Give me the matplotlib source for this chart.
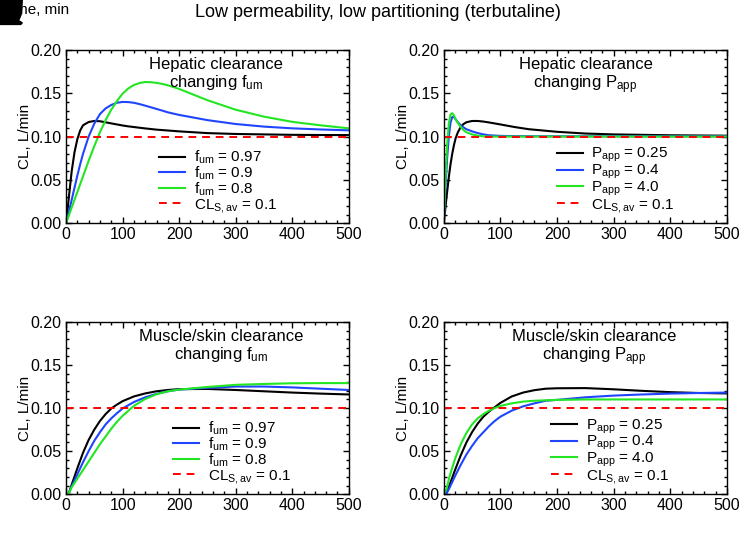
import matplotlib.pyplot as plt
from matplotlib.patches import Polygon
from matplotlib.ticker import MultipleLocator
import numpy as np

# ---- data ----
t_hep_fum = [0, 5, 10, 15, 20, 25, 30, 40, 50, 60, 70, 80, 90, 100, 110, 120,
             130, 140, 150, 160, 170, 180, 200, 250, 300, 350, 400, 450, 500]
hep_fum_097 = [0, 0.03, 0.06, 0.082, 0.097, 0.107, 0.113, 0.1168, 0.118, 0.1177,
               0.1165, 0.1152, 0.114, 0.1128, 0.1118, 0.111, 0.1102, 0.1094,
               0.1087, 0.108, 0.1075, 0.107, 0.106, 0.104, 0.103, 0.1025, 0.102,
               0.1018, 0.1017]
hep_fum_09 = [0, 0.013, 0.027, 0.041, 0.055, 0.068, 0.08, 0.1, 0.115, 0.126,
              0.1325, 0.1365, 0.139, 0.140, 0.1398, 0.139, 0.1375, 0.1357,
              0.1338, 0.1319, 0.130, 0.128, 0.125, 0.119, 0.1145, 0.1115, 0.1095,
              0.1082, 0.1072]
hep_fum_08 = [0, 0.009, 0.018, 0.027, 0.036, 0.045, 0.054, 0.072, 0.089, 0.105,
              0.119, 0.131, 0.141, 0.1495, 0.1555, 0.1595, 0.1618, 0.163, 0.1628,
              0.162, 0.1608, 0.1592, 0.155, 0.142, 0.131, 0.123, 0.117, 0.113,
              0.1095]

t_hep_papp = [0, 3, 6, 9, 12, 15, 18, 21, 25, 30, 35, 40, 50, 60, 70, 80, 100,
              125, 150, 200, 250, 300, 400, 500]
hep_papp_025 = [0, 0.018, 0.036, 0.053, 0.068, 0.08, 0.09, 0.098, 0.105, 0.111,
                0.1145, 0.1165, 0.118, 0.118, 0.1173, 0.1163, 0.114, 0.111,
                0.1085, 0.1055, 0.1035, 0.1025, 0.1015, 0.101]
hep_papp_04 = [0, 0.04, 0.075, 0.1, 0.116, 0.1225, 0.1225, 0.12, 0.1165, 0.113,
               0.1105, 0.1085, 0.106, 0.104, 0.1025, 0.1015, 0.1008, 0.1005,
               0.1004, 0.1003, 0.1003, 0.1003, 0.1003, 0.1003]
hep_papp_40 = [0, 0.05, 0.09, 0.115, 0.1255, 0.127, 0.1245, 0.12, 0.1155, 0.111,
               0.1075, 0.105, 0.1025, 0.101, 0.1003, 0.1, 0.1, 0.1, 0.1, 0.1,
               0.1, 0.1, 0.1, 0.1]

t_mus = [0, 5, 10, 20, 30, 40, 50, 60, 70, 80, 90, 100, 120, 140, 160, 180,
         200, 250, 300, 350, 400, 450, 500]
mus_fum_097 = [0, 0.001, 0.011, 0.03, 0.048, 0.063, 0.075, 0.085, 0.093, 0.0995,
               0.104, 0.108, 0.1135, 0.117, 0.1195, 0.121, 0.122, 0.1222, 0.121,
               0.1195, 0.118, 0.1168, 0.1158]
mus_fum_09 = [0, 0.001, 0.009, 0.023, 0.037, 0.05, 0.062, 0.072, 0.081, 0.088,
              0.094, 0.0995, 0.107, 0.1125, 0.1165, 0.1195, 0.1215, 0.1235, 0.125,
              0.125, 0.124, 0.1225, 0.121]
mus_fum_08 = [0, 0.001, 0.008, 0.018, 0.028, 0.038, 0.048, 0.058, 0.067, 0.076,
              0.084, 0.091, 0.1025, 0.1105, 0.116, 0.1195, 0.1215, 0.1245, 0.127,
              0.128, 0.1288, 0.129, 0.129]

mus_papp_025 = [0, 0.001, 0.01, 0.028, 0.045, 0.06, 0.072, 0.082, 0.09, 0.096,
                0.101, 0.106, 0.1135, 0.118, 0.1208, 0.1225, 0.123, 0.1232,
                0.1218, 0.12, 0.1185, 0.1175, 0.117]
mus_papp_04 = [0, 0.001, 0.007, 0.021, 0.034, 0.046, 0.056, 0.065, 0.072, 0.079,
               0.085, 0.09, 0.097, 0.102, 0.1055, 0.1085, 0.1095, 0.1125, 0.1145,
               0.1158, 0.1168, 0.1175, 0.118]
mus_papp_40 = [0, 0.006, 0.02, 0.041, 0.058, 0.071, 0.081, 0.088, 0.093, 0.097,
               0.1, 0.1025, 0.1055, 0.1075, 0.1085, 0.109, 0.1095, 0.11, 0.11,
               0.11, 0.11, 0.11, 0.11]

cl_s_av = 0.1
fum_labels = ['f$_{\\mathregular{um}}$ = 0.97', 'f$_{\\mathregular{um}}$ = 0.9',
              'f$_{\\mathregular{um}}$ = 0.8']
papp_labels = ['P$_{\\mathregular{app}}$ = 0.25', 'P$_{\\mathregular{app}}$ = 0.4',
               'P$_{\\mathregular{app}}$ = 4.0']
colors = ['black', '#1f45ff', '#22e622']

plt.rcParams['font.family'] = ['Liberation Sans', 'DejaVu Sans']
plt.rcParams['mathtext.fontset'] = 'custom'
plt.rcParams['mathtext.rm'] = 'Liberation Sans'
plt.rcParams['mathtext.it'] = 'Liberation Sans'

fig = plt.figure(figsize=(7.42, 5.43), dpi=100)

panels = [
    ([0.089, 0.589, 0.381, 0.319], t_hep_fum, [hep_fum_097, hep_fum_09, hep_fum_08],
     fum_labels, 'Hepatic clearance\nchanging f$_{\\mathregular{um}}$', 0.53, 0.33),
    ([0.598, 0.589, 0.382, 0.319], t_hep_papp, [hep_papp_025, hep_papp_04, hep_papp_40],
     papp_labels, 'Hepatic clearance\nchanging P$_{\\mathregular{app}}$', 0.50, 0.40),
    ([0.089, 0.090, 0.381, 0.317], t_mus, [mus_fum_097, mus_fum_09, mus_fum_08],
     fum_labels, 'Muscle/skin clearance\nchanging f$_{\\mathregular{um}}$', 0.55, 0.38),
    ([0.598, 0.090, 0.382, 0.317], t_mus, [mus_papp_025, mus_papp_04, mus_papp_40],
     papp_labels, 'Muscle/skin clearance\nchanging P$_{\\mathregular{app}}$', 0.53, 0.38),
]

for rect, t, series, labels, note, note_x, leg_x in panels:
    ax = fig.add_axes(rect)
    for y, lab, c in zip(series, labels, colors):
        ax.plot(t, y, color=c, lw=1.5, label=lab)
    ax.axhline(cl_s_av, color='red', ls='--', lw=1.4, dashes=(4, 3),
               label='CL$_{\\mathregular{S,av}}$ = 0.1')
    ax.set_xlim(0, 500)
    ax.set_ylim(0, 0.2)
    ax.xaxis.set_major_locator(MultipleLocator(100))
    ax.xaxis.set_minor_locator(MultipleLocator(20))
    ax.yaxis.set_major_locator(MultipleLocator(0.05))
    ax.yaxis.set_minor_locator(MultipleLocator(0.01))
    ax.yaxis.set_major_formatter(plt.FormatStrFormatter('%.2f'))
    ax.tick_params(which='both', direction='in', top=True, right=True,
                   labelsize=11.5, width=1, pad=3)
    ax.tick_params(which='major', length=4)
    ax.tick_params(which='minor', length=2)
    for s in ax.spines.values():
        s.set_linewidth(1)
    ax.set_ylabel('CL, L/min', fontsize=11, labelpad=-1)
    ax.text(note_x, 0.96, note, transform=ax.transAxes, ha='center', va='top',
            fontsize=12, linespacing=1.1)
    ax.legend(loc='lower left', bbox_to_anchor=(leg_x, 0.05), frameon=False,
              fontsize=11, handlelength=1.7, handletextpad=0.55,
              labelspacing=-0.1, borderaxespad=0, borderpad=0)

fig.text(0.51, 0.977, 'Low permeability, low partitioning (terbutaline)',
         ha='center', va='center', fontsize=13)
fig.text(0.004, 0.982, 'Time, min', ha='left', va='center', fontsize=11)
blob = Polygon([(0, 1), (0.03, 1), (0.029, 0.975), (0.025, 0.962), (0.03, 0.958),
                (0.028, 0.955), (0, 0.955)], closed=True, transform=fig.transFigure,
               color='black')
fig.patches.append(blob)

fig.savefig('out.png', dpi=100)
